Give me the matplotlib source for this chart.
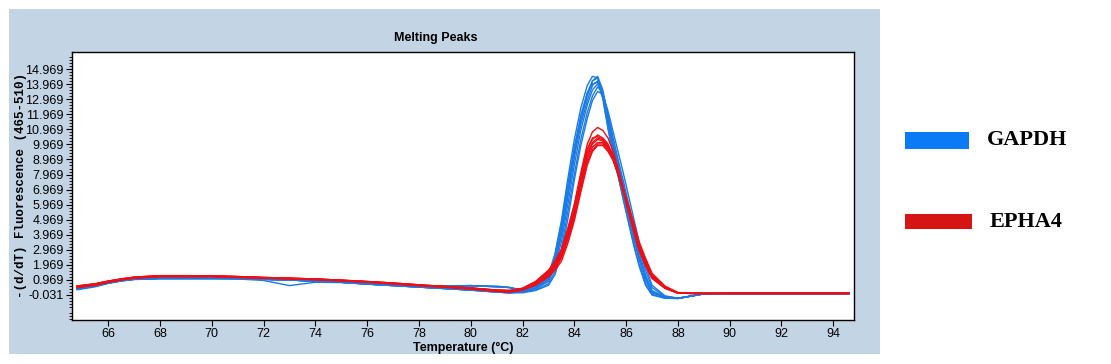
import matplotlib
matplotlib.use("Agg")
import matplotlib.pyplot as plt
from matplotlib.patches import Rectangle
from matplotlib.ticker import FixedLocator
import numpy as np

# ---------------- data ----------------
temp_base = [64.8, 65.5, 66.0, 66.5, 67.0, 68.0, 69.0, 70.0, 71.0, 72.0,
             73.0, 74.0, 75.0, 76.0, 77.0, 78.0, 79.0, 80.0, 81.0, 81.5]
temp_peak = [82.0, 82.5, 83.0, 83.25, 83.5, 83.75, 84.0, 84.25, 84.5, 84.7,
             84.9, 85.1, 85.3, 85.5, 85.7, 85.9, 86.1, 86.3, 86.5, 86.75,
             87.0, 87.5, 88.0, 88.5, 89.0, 90.0, 92.0, 94.6]

gapdh_base = [
    [0.35, 0.55, 0.75, 0.90, 1.00, 1.05, 1.05, 1.05, 1.05, 1.00, 0.95, 0.88, 0.80, 0.68, 0.58, 0.48, 0.38, 0.28, 0.15, 0.10],
    [0.30, 0.50, 0.72, 0.88, 0.98, 1.04, 1.04, 1.04, 1.02, 0.92, 0.58, 0.80, 0.78, 0.68, 0.58, 0.48, 0.40, 0.55, 0.55, 0.45],
    [0.38, 0.58, 0.78, 0.92, 1.02, 1.07, 1.07, 1.07, 1.05, 1.00, 0.95, 0.88, 0.80, 0.70, 0.62, 0.55, 0.55, 0.58, 0.50, 0.45],
]
gapdh_peaks = [
    [0.20, 0.40, 0.95, 2.0, 3.9, 6.5, 9.1, 11.3, 12.9, 13.9, 14.2, 13.4, 11.6, 9.9, 8.4, 6.9, 5.4, 3.9, 2.5, 1.1, 0.15, -0.22, -0.27, -0.12, 0.03, 0.05, 0.05, 0.05],
    [0.25, 0.55, 1.30, 2.7, 4.9, 7.7, 10.3, 12.4, 13.9, 14.5, 14.4, 13.1, 11.1, 9.3, 7.8, 6.2, 4.7, 3.2, 1.9, 0.6, -0.05, -0.26, -0.28, -0.12, 0.03, 0.05, 0.05, 0.05],
    [0.15, 0.30, 0.70, 1.5, 3.0, 5.5, 8.0, 10.3, 12.1, 13.2, 13.8, 13.4, 12.0, 10.4, 8.9, 7.5, 6.0, 4.5, 3.1, 1.6, 0.45, -0.15, -0.27, -0.13, 0.03, 0.05, 0.05, 0.05],
    [0.20, 0.45, 1.10, 2.3, 4.3, 7.0, 9.6, 11.8, 13.4, 14.2, 14.4, 13.3, 11.4, 9.7, 8.2, 6.6, 5.1, 3.6, 2.3, 0.9, 0.10, -0.20, -0.27, -0.12, 0.03, 0.05, 0.05, 0.05],
    [0.10, 0.25, 0.60, 1.3, 2.7, 5.0, 7.6, 9.9, 11.7, 12.9, 13.5, 13.3, 12.2, 10.8, 9.4, 8.0, 6.5, 5.0, 3.5, 1.9, 0.60, -0.10, -0.25, -0.12, 0.03, 0.05, 0.05, 0.05],
    [0.30, 0.55, 1.20, 2.5, 4.6, 7.3, 9.8, 11.9, 13.4, 14.0, 14.1, 13.0, 11.0, 9.3, 7.8, 6.3, 4.8, 3.3, 2.0, 0.7, 0.00, -0.26, -0.28, -0.12, 0.03, 0.05, 0.05, 0.05],
    [0.18, 0.38, 0.85, 1.8, 3.5, 6.0, 8.6, 10.9, 12.6, 13.6, 14.0, 13.4, 11.8, 10.2, 8.7, 7.2, 5.7, 4.2, 2.8, 1.3, 0.25, -0.18, -0.26, -0.12, 0.03, 0.05, 0.05, 0.05],
    [0.22, 0.42, 1.00, 2.1, 4.0, 6.7, 9.3, 11.6, 13.2, 14.2, 14.5, 13.6, 11.8, 10.0, 8.5, 7.0, 5.4, 3.9, 2.5, 1.1, 0.15, -0.22, -0.27, -0.12, 0.03, 0.05, 0.05, 0.05],
]
gapdh_base_index = [0, 1, 0, 2, 0, 2, 0, 2]

epha4_base = [
    [0.50, 0.65, 0.85, 0.98, 1.10, 1.20, 1.20, 1.20, 1.15, 1.10, 1.05, 1.00, 0.92, 0.83, 0.72, 0.60, 0.50, 0.40, 0.25, 0.20],
    [0.55, 0.70, 0.88, 1.02, 1.14, 1.24, 1.24, 1.23, 1.18, 1.12, 1.07, 1.02, 0.94, 0.85, 0.75, 0.63, 0.52, 0.42, 0.28, 0.25],
    [0.45, 0.60, 0.80, 0.95, 1.07, 1.17, 1.17, 1.17, 1.12, 1.07, 1.02, 0.97, 0.89, 0.80, 0.69, 0.57, 0.47, 0.35, 0.20, 0.15],
]
epha4_peaks = [
    [0.35, 0.75, 1.40, 1.9, 2.6, 3.9, 5.4, 7.4, 9.2, 10.0, 10.3, 10.2, 9.8, 9.1, 8.1, 6.9, 5.7, 4.4, 3.2, 2.1, 1.20, 0.45, 0.08, 0.06, 0.06, 0.06, 0.06, 0.06],
    [0.40, 0.85, 1.60, 2.2, 3.0, 4.4, 6.0, 8.1, 10.0, 10.8, 11.1, 10.9, 10.4, 9.5, 8.3, 7.0, 5.6, 4.3, 3.0, 1.9, 1.10, 0.40, 0.08, 0.06, 0.06, 0.06, 0.06, 0.06],
    [0.30, 0.65, 1.25, 1.7, 2.4, 3.6, 5.1, 7.0, 8.8, 9.6, 10.0, 10.0, 9.6, 9.0, 8.0, 7.0, 5.8, 4.6, 3.4, 2.3, 1.30, 0.50, 0.10, 0.06, 0.06, 0.06, 0.06, 0.06],
    [0.38, 0.80, 1.50, 2.0, 2.8, 4.2, 5.7, 7.8, 9.6, 10.3, 10.6, 10.4, 10.0, 9.2, 8.2, 6.9, 5.7, 4.4, 3.1, 2.0, 1.15, 0.42, 0.08, 0.06, 0.06, 0.06, 0.06, 0.06],
    [0.28, 0.60, 1.15, 1.6, 2.2, 3.4, 4.9, 6.8, 8.6, 9.5, 9.9, 9.9, 9.5, 8.9, 7.9, 6.9, 5.9, 4.7, 3.5, 2.4, 1.40, 0.55, 0.12, 0.06, 0.06, 0.06, 0.06, 0.06],
    [0.36, 0.78, 1.45, 2.0, 2.7, 4.0, 5.5, 7.5, 9.4, 10.1, 10.4, 10.3, 9.9, 9.1, 8.1, 6.9, 5.6, 4.3, 3.1, 2.0, 1.20, 0.45, 0.08, 0.06, 0.06, 0.06, 0.06, 0.06],
    [0.33, 0.72, 1.35, 1.85, 2.5, 3.8, 5.3, 7.2, 9.0, 9.8, 10.1, 10.1, 9.7, 9.0, 8.0, 6.9, 5.7, 4.5, 3.3, 2.2, 1.25, 0.48, 0.09, 0.06, 0.06, 0.06, 0.06, 0.06],
    [0.40, 0.82, 1.55, 2.1, 2.9, 4.3, 5.9, 7.9, 9.7, 10.4, 10.5, 10.3, 9.8, 8.9, 7.9, 6.7, 5.4, 4.1, 2.9, 1.9, 1.05, 0.40, 0.07, 0.06, 0.06, 0.06, 0.06, 0.06],
]
epha4_base_index = [0, 1, 2, 0, 2, 1, 0, 1]

x_ticks = [66, 68, 70, 72, 74, 76, 78, 80, 82, 84, 86, 88, 90, 92, 94]
y_ticks = [-0.031, 0.969, 1.969, 2.969, 3.969, 4.969, 5.969, 6.969, 7.969,
           8.969, 9.969, 10.969, 11.969, 12.969, 13.969, 14.969]
series_names = ["GAPDH", "EPHA4"]

# ---------------- styling ----------------
W, H = 1111, 364
BLUE = "#1b7be6"
RED = "#ee0e16"
PANEL = "#c3d4e5"

fig = plt.figure(figsize=(W / 100, H / 100), dpi=100)
fig.patch.set_facecolor("white")

# light-blue panel behind the chart
panel = Rectangle((9 / W, 1 - 354 / H), (880 - 9) / W, (354 - 9) / H,
                  transform=fig.transFigure, facecolor=PANEL,
                  edgecolor="none", zorder=-5)
fig.patches.append(panel)

ax = fig.add_axes([72 / W, 1 - 320 / H, (854 - 72) / W, (320 - 52) / H])
ax.set_zorder(2)
ax.set_facecolor("white")

t_all = temp_base + temp_peak
for vals, bi in zip(gapdh_peaks, gapdh_base_index):
    ax.plot(t_all, gapdh_base[bi] + vals, color=BLUE, lw=1.0, zorder=2)
for vals, bi in zip(epha4_peaks, epha4_base_index):
    ax.plot(t_all, epha4_base[bi] + vals, color=RED, lw=1.0, zorder=3)

ax.set_xlim(64.6, 94.8)
ax.set_ylim(-1.71, 16.12)

ax.xaxis.set_major_locator(FixedLocator(x_ticks))
ax.set_xticklabels([str(v) for v in x_ticks])
ax.yaxis.set_major_locator(FixedLocator(y_ticks))
ax.set_yticklabels(["%.3f" % v for v in y_ticks])
ax.yaxis.set_minor_locator(FixedLocator(
    [y_ticks[0] + 0.2 * k for k in range(-8, 86) if (k % 5) != 0]))

ax.tick_params(axis="both", which="major", direction="out", length=4,
               width=0.8, labelsize=9, pad=2)
ax.tick_params(axis="y", which="minor", direction="out", length=2, width=0.6)
for lab in ax.get_xticklabels() + ax.get_yticklabels():
    lab.set_family("Liberation Sans")
for s in ax.spines.values():
    s.set_linewidth(1.0)
    s.set_color("black")

ax.set_xlabel("Temperature (°C)", fontsize=9, fontweight="bold",
              family="Liberation Sans", labelpad=1)
ax.set_ylabel("-(d/dT) Fluorescence (465-510)", fontsize=9, fontweight="bold",
              family="Liberation Mono")
ax.yaxis.set_label_coords(-(72 - 27) / (854 - 72), 0.5)

fig.text(436 / W, 1 - 38 / H, "Melting Peaks", ha="center", va="center",
         fontsize=9, fontweight="bold", family="Liberation Sans", zorder=3)

# legend on the right
fig.patches.append(Rectangle((905 / W, 1 - 149 / H), 64 / W, 17 / H,
                             transform=fig.transFigure, facecolor="#0a7af5",
                             edgecolor="none"))
fig.patches.append(Rectangle((905 / W, 1 - 229 / H), 67 / W, 15 / H,
                             transform=fig.transFigure, facecolor="#d71414",
                             edgecolor="none"))
fig.text(987 / W, 1 - 140 / H, series_names[0], ha="left", va="center",
         fontsize=16, fontweight="bold", family="Liberation Serif")
fig.text(990 / W, 1 - 222 / H, series_names[1], ha="left", va="center",
         fontsize=16, fontweight="bold", family="Liberation Serif")

fig.savefig("out.png", dpi=100, facecolor="white")
